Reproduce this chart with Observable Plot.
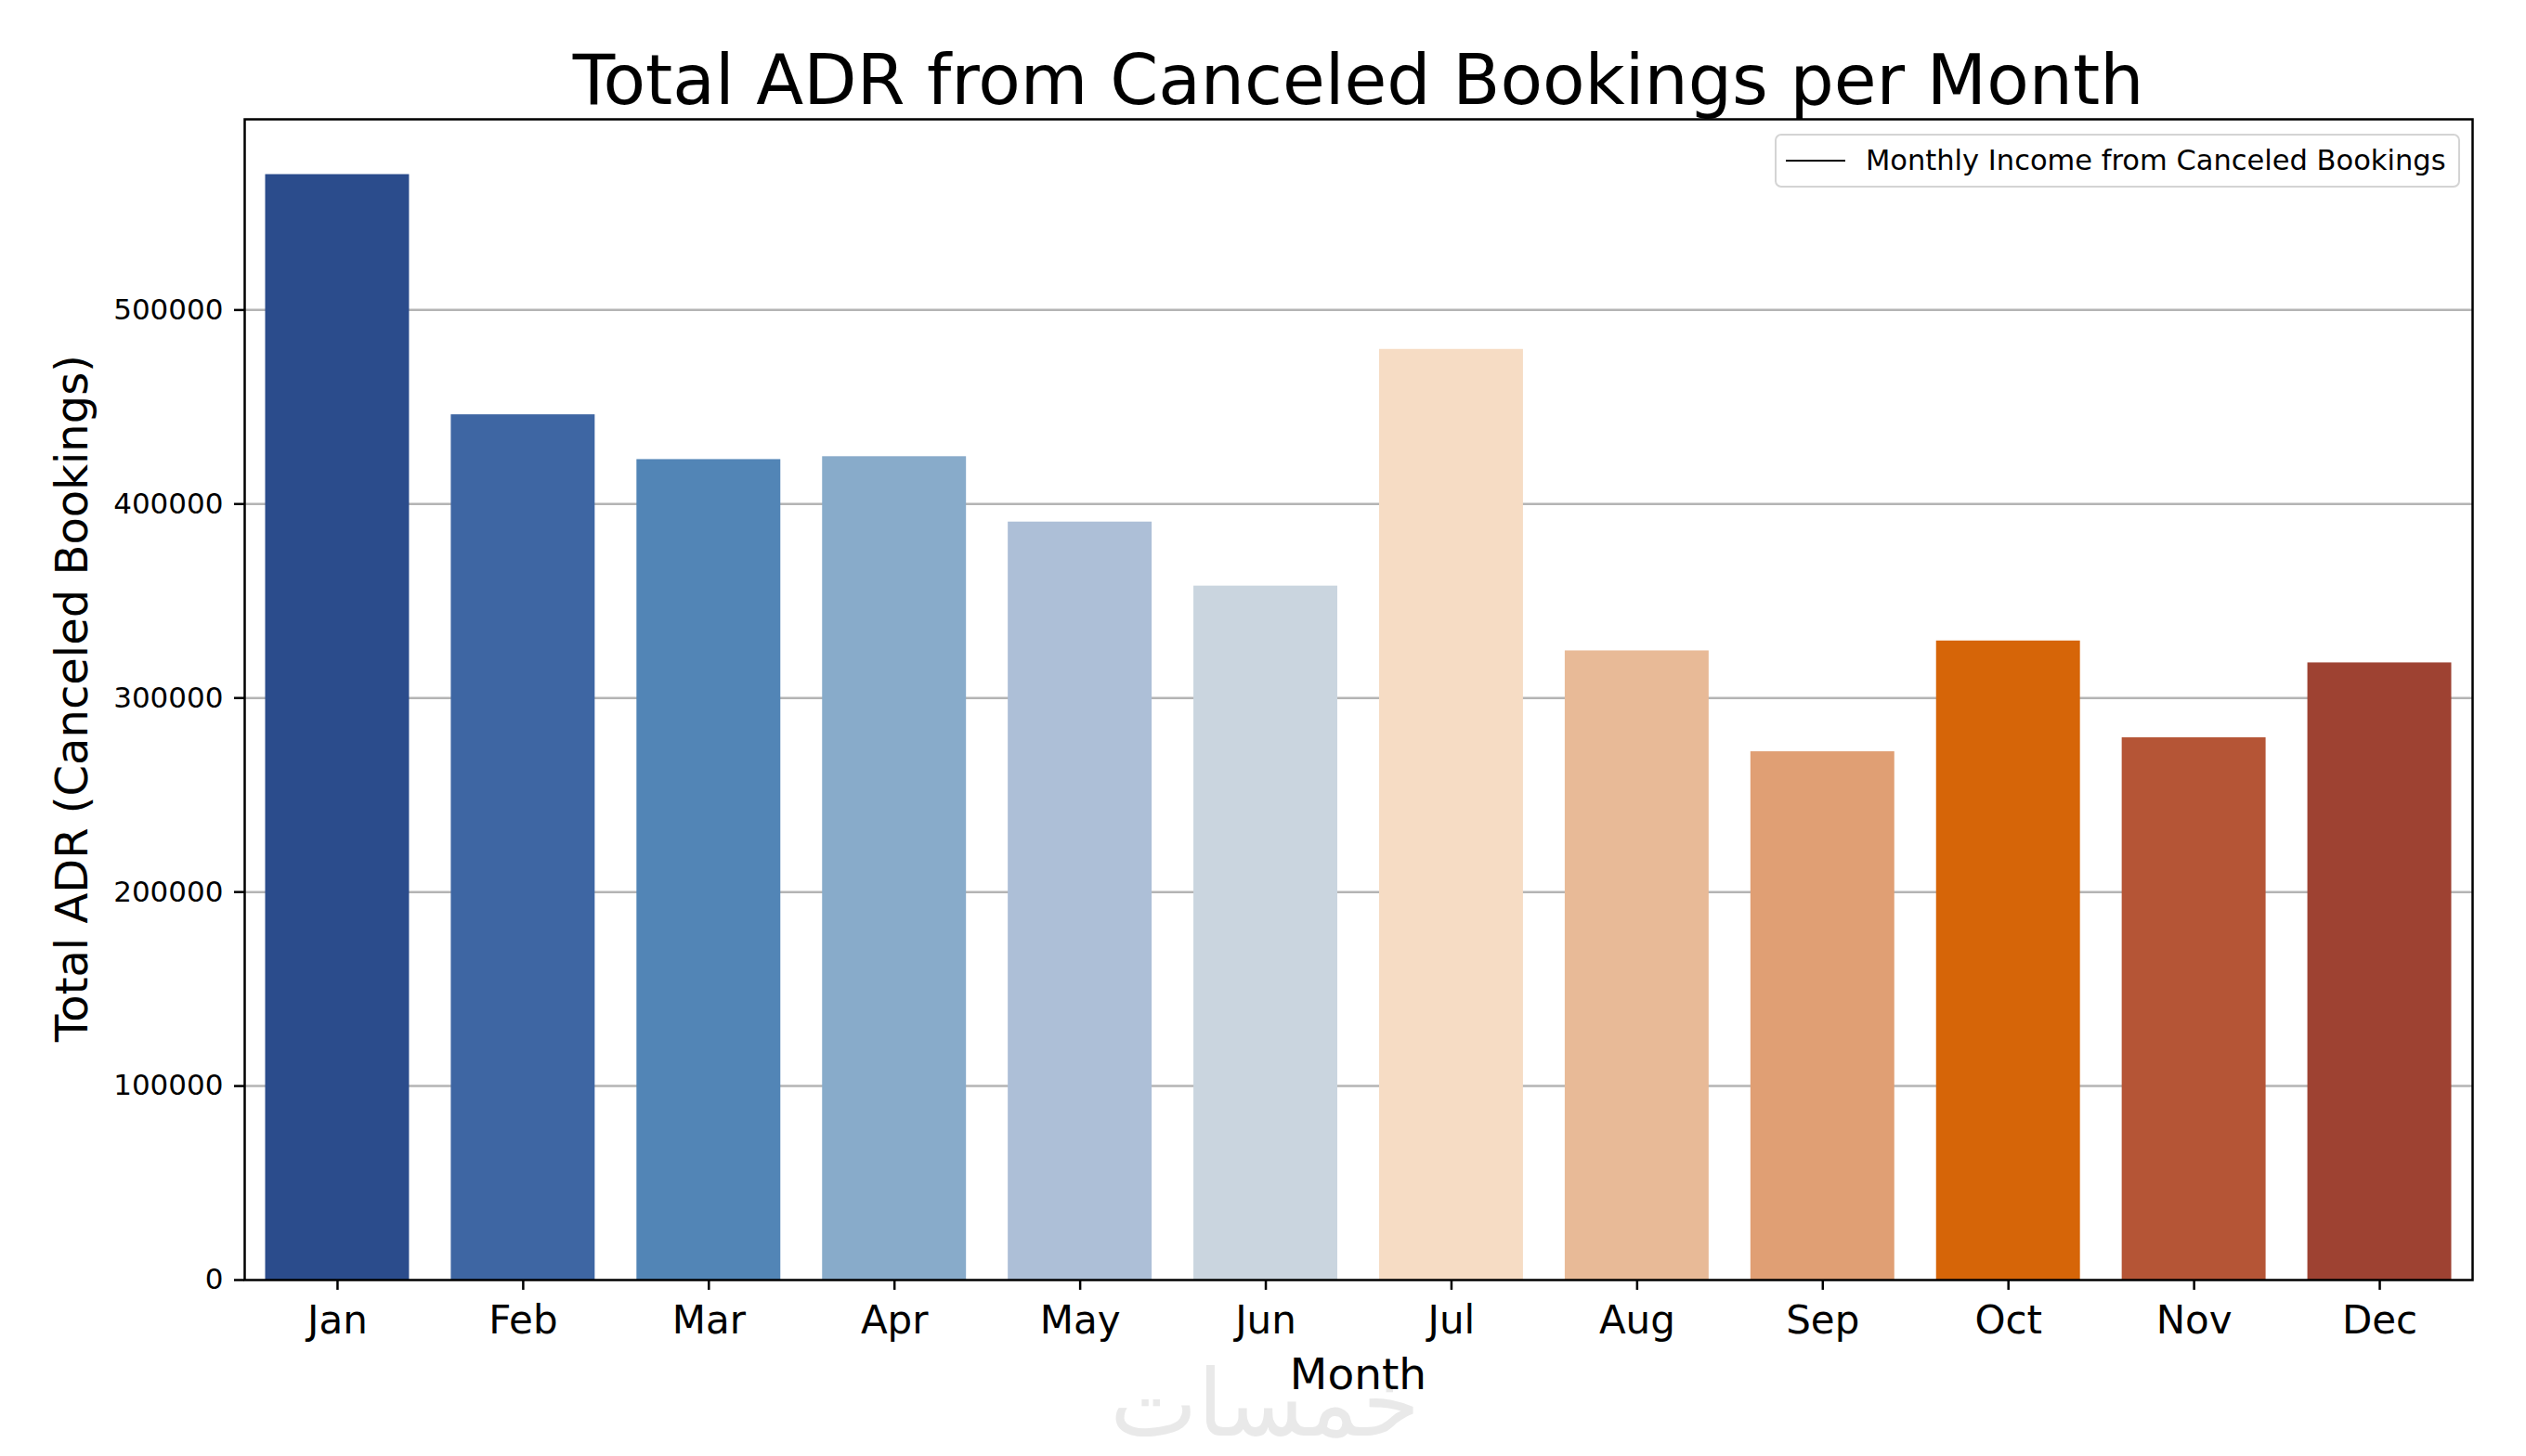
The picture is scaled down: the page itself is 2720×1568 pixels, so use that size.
<!DOCTYPE html>
<html>
<head>
<meta charset="utf-8">
<script src="https://cdn.jsdelivr.net/npm/d3@7"></script>
<script src="https://cdn.jsdelivr.net/npm/@observablehq/plot@0.6"></script>
<style>
  html, body { margin: 0; padding: 0; background: #ffffff; }
  #wrap { position: relative; width: 2720px; height: 1568px; background: #ffffff; font-family: "DejaVu Sans", sans-serif; color: #000; }
  #wrap svg { position: absolute; left: 0; top: 0; }
  .abs { position: absolute; white-space: nowrap; line-height: 1; }
</style>
</head>
<body>
<div id="wrap"></div>
<script>
// ---- data ----
const months = ["Jan", "Feb", "Mar", "Apr", "May", "Jun", "Jul", "Aug", "Sep", "Oct", "Nov", "Dec"];
const totalAdr = [569800, 446000, 422900, 424400, 390700, 357700, 479700, 324300, 272300, 329400, 279500, 318100];
const barColors = ["#2b4c8c", "#3e66a3", "#5285b6", "#88abca", "#adbfd7", "#cad5df",
                   "#f6dcc4", "#e8ba97", "#e09f74", "#d66508", "#b55536", "#9e4232"];
const yTicks = [0, 100000, 200000, 300000, 400000, 500000];
const titleText = "Total ADR from Canceled Bookings per Month";
const xLabelText = "Month";
const yLabelText = "Total ADR (Canceled Bookings)";
const legendText = "Monthly Income from Canceled Bookings";
const watermarkText = "خمسات";

const data = months.map((m, i) => ({month: m, adr: totalAdr[i]}));
const yMax = d3.max(totalAdr) * 1.05;

const wrap = document.getElementById("wrap");

// watermark (behind everything)
const wm = document.createElement("div");
wm.className = "abs";
wm.textContent = watermarkText;
Object.assign(wm.style, {left: "1362px", top: "1512px", transform: "translate(-50%,-50%)",
  fontSize: "100px", color: "#e9e9e9", fontFamily: "DejaVu Sans", direction: "rtl"});
wrap.appendChild(wm);

const chart = Plot.plot({
  width: 2720,
  height: 1568,
  marginTop: 128,
  marginLeft: 263,
  marginRight: 58,
  marginBottom: 190,
  style: {fontFamily: "DejaVu Sans", background: "transparent", color: "#000", overflow: "visible"},
  x: {domain: months, paddingInner: 0.225, paddingOuter: 0.1125, round: false, label: null},
  y: {domain: [0, yMax], label: null},
  color: {domain: months, range: barColors},
  marks: [
    Plot.ruleY(yTicks.filter(d => d > 0), {stroke: "#b4b4b4", strokeWidth: 2.5}),
    Plot.barY(data, {x: "month", y: "adr", fill: "month"}),
    Plot.axisY({ticks: yTicks, tickFormat: d => String(d), tickSize: 11, tickPadding: 12,
                fontSize: 31, strokeWidth: 2.5, label: null}),
    Plot.axisX({tickSize: 11, tickPadding: 17, fontSize: 42, strokeWidth: 2.5, label: null}),
    Plot.frame({stroke: "#000", strokeWidth: 2.5})
  ]
});
wrap.appendChild(chart);

// title
const title = document.createElement("div");
title.className = "abs";
title.textContent = titleText;
Object.assign(title.style, {left: "263px", width: "2399px", textAlign: "center", top: "50px", fontSize: "74.5px"});
wrap.appendChild(title);

// x label
const xl = document.createElement("div");
xl.className = "abs";
xl.textContent = xLabelText;
Object.assign(xl.style, {left: "263px", width: "2399px", textAlign: "center", top: "1456px", fontSize: "47px"});
wrap.appendChild(xl);

// y label
const yl = document.createElement("div");
yl.className = "abs";
yl.textContent = yLabelText;
Object.assign(yl.style, {left: "77px", top: "752px", transform: "translate(-50%,-50%) rotate(-90deg)", fontSize: "48px"});
wrap.appendChild(yl);

// legend
const lg = document.createElement("div");
lg.className = "abs";
Object.assign(lg.style, {left: "1911px", top: "144px", width: "734px", height: "54px",
  border: "2px solid #d4d4d4", borderRadius: "7px", background: "rgba(255,255,255,0.85)"});
const sw = document.createElement("div");
sw.className = "abs";
Object.assign(sw.style, {left: "10px", top: "26px", width: "64px", height: "0", borderTop: "2.5px solid #000"});
lg.appendChild(sw);
const lt = document.createElement("div");
lt.className = "abs";
lt.textContent = legendText;
Object.assign(lt.style, {left: "96px", top: "12px", fontSize: "30.5px"});
lg.appendChild(lt);
wrap.appendChild(lg);
</script>
</body>
</html>
